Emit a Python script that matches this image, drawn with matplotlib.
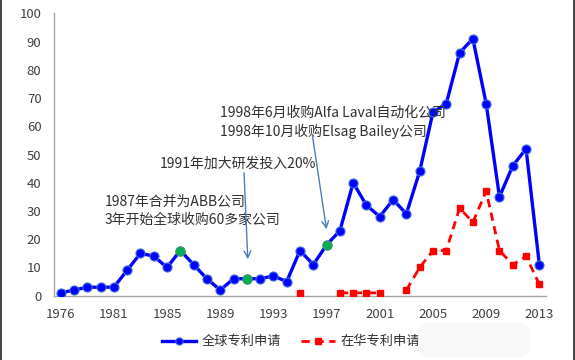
import numpy as np
import matplotlib
matplotlib.use("Agg")
import matplotlib.pyplot as plt
from matplotlib.lines import Line2D
from matplotlib.patches import FancyBboxPatch

plt.rcParams['font.family'] = ['Noto Sans CJK SC', 'DejaVu Sans']

years = [1976, 1978, 1979, 1980, 1981, 1982, 1983, 1984, 1985, 1986,
         1987, 1988, 1989, 1990, 1991, 1992, 1993, 1994, 1995, 1996,
         1997, 1998, 1999, 2000, 2001, 2002, 2003, 2004, 2005, 2006,
         2007, 2008, 2009, 2010, 2011, 2012, 2013]
global_apps = [1, 2, 3, 3, 3, 9, 15, 14, 10, 16,
               11, 6, 2, 6, 6, 6, 7, 5, 16, 11,
               18, 23, 40, 32, 28, 34, 29, 44, 65, 68,
               86, 91, 68, 35, 46, 52, 11]
china_apps = [None, None, None, None, None, None, None, None, None, None,
              None, None, None, None, None, None, None, None, 1, None,
              None, 1, 1, 1, 1, None, 2, 10, 16, 16,
              31, 26, 37, 16, 11, 14, 4]
highlight_years = [1986, 1991, 1997]
label_years = [1976, 1981, 1985, 1989, 1993, 1997, 2001, 2005, 2009, 2013]

series_names = ["全球专利申请", "在华专利申请"]
notes = ["1987年合并为ABB公司\n3年开始全球收购60多家公司",
         "1991年加大研发投入20%",
         "1998年6月收购Alfa Laval自动化公司\n1998年10月收购Elsag Bailey公司"]

W, H = 575, 360
fig = plt.figure(figsize=(W / 100, H / 100), dpi=100)
ax = fig.add_axes([54 / W, 1 - 295.7 / H, (546 - 54) / W, (295.7 - 13.3) / H])

x = np.arange(len(years))
g = np.array(global_apps, dtype=float)
c = np.array([np.nan if v is None else v for v in china_apps], dtype=float)

ax.plot(x, g, color="#0000ff", lw=2.4, marker="o", ms=6.5,
        mfc="#0000ff", mec="#3a6fd8", mew=0.8, label=series_names[0], zorder=3)
ax.plot(x, c, color="#ff0000", lw=2.0, ls=(0, (3, 2)), marker="s", ms=5,
        mfc="#ff0000", mec="#ff0000", label=series_names[1], zorder=3)

hi = [years.index(y) for y in highlight_years]
ax.plot(x[hi], g[hi], ls="none", marker="o", ms=6.5, mfc="#00b050",
        mec="#3a9a60", mew=0.8, zorder=4)

ax.set_xlim(-0.5, len(years) - 0.5)
ax.set_ylim(0, 100)
ax.set_yticks(range(0, 101, 10))
ax.set_xticks([years.index(y) for y in label_years])
ax.set_xticklabels([str(y) for y in label_years])
ax.tick_params(axis="both", length=0, labelsize=9.5, labelcolor="#404040")
ax.tick_params(axis="y", pad=9)
ax.tick_params(axis="x", pad=9)
for s in ["top", "right"]:
    ax.spines[s].set_visible(False)
for s in ["left", "bottom"]:
    ax.spines[s].set_color("#a6a6a6")
    ax.spines[s].set_linewidth(1.0)


def px(xp, yp):
    return (xp - 60.7) / 13.3, (295.7 - yp) / 2.824


txt = dict(fontsize=10, color="#303030", ha="left", va="center", linespacing=1.35)
ax.text(*px(105, 211), notes[0], **txt)
ax.text(*px(160, 164), notes[1], **txt)
ax.text(*px(220, 122), notes[2], **txt)

arr = dict(arrowstyle="->", color="#4a7ebb", lw=1.0, mutation_scale=12)
ax.annotate("", xy=px(248, 262), xytext=px(244, 170), arrowprops=arr)
ax.annotate("", xy=px(327, 232), xytext=px(312, 132), arrowprops=arr)

fig.legend(loc="center", bbox_to_anchor=(291 / W, 1 - 342 / H), ncol=2,
           frameon=False, fontsize=9.5, handlelength=2.6, handletextpad=0.4,
           columnspacing=1.5, markerscale=0.8, labelcolor="#303030")

# faint watermark smudge over the end of the legend
fig.add_artist(FancyBboxPatch((418 / W, 1 - 358 / H), 112 / W, 36 / H,
                              boxstyle="round,pad=0,rounding_size=0.03",
                              transform=fig.transFigure, fc="#f6f6f6",
                              ec="none", alpha=0.7, zorder=10))

fig.add_artist(Line2D([0.8 / W, 0.8 / W], [0, 1], color="#222222", lw=1.2))
fig.add_artist(Line2D([573.5 / W, 573.5 / W], [0, 1], color="#222222", lw=1.2))

fig.savefig("out.png", dpi=100)
